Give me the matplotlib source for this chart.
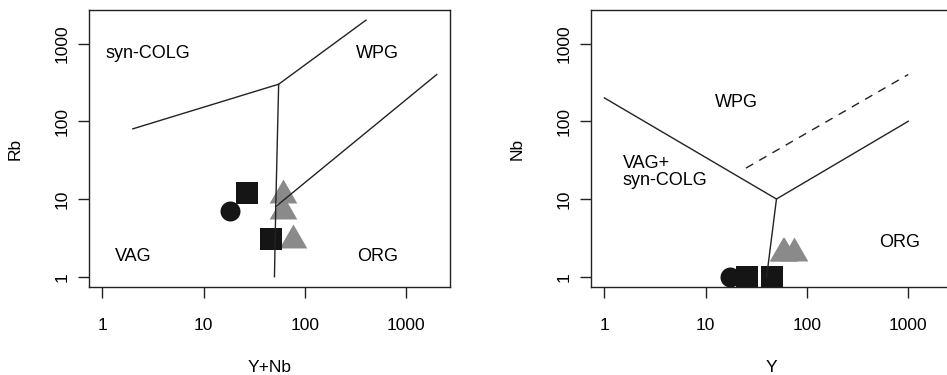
import numpy as np
import matplotlib
matplotlib.use('Agg')
import matplotlib.pyplot as plt

plt.rcParams['font.family'] = ['Liberation Sans', 'DejaVu Sans']

# sample data (ppm)
CIRCLE_Y = [17.3]
CIRCLE_NB = [1.0]
CIRCLE_RB = [7.0]
SQUARE_Y = [25.5, 45.5]
SQUARE_NB = [1.0, 1.0]
SQUARE_RB = [11.9, 3.07]
TRI_Y = [59.0, 58.5, 75.0]
TRI_NB = [2.0, 2.0, 2.0]
TRI_RB = [11.3, 7.0, 2.98]

# Pearce et al. (1984) field boundaries
RB_COLG_X = [2, 55, 400]
RB_COLG_Y = [80, 300, 2000]
RB_VERT_X = [55, 51.5, 50]
RB_VERT_Y = [300, 8, 1]
RB_ORG_X = [51.5, 2000]
RB_ORG_Y = [8, 400]
NB_MAIN_X = [1, 50, 1000]
NB_MAIN_Y = [200, 10, 100]
NB_VERT_X = [50, 40]
NB_VERT_Y = [10, 1]
NB_DASH_X = [25, 1000]
NB_DASH_Y = [25, 400]

TICKS = [1, 10, 100, 1000]
TICK_LABELS = ['1', '10', '100', '1000']
LIM = (10 ** -0.132, 10 ** 3.432)

BLACK = '#151515'
GREY = '#8a8a8a'
LINE = '#222222'

# triangle marker centred on its centroid (like R pch 17)
tri = [(-1, -0.577), (1, -0.577), (0, 1.155), (-1, -0.577)]

fig = plt.figure(figsize=(9.47, 3.75), dpi=100)
ax1 = fig.add_axes([89 / 947, 88 / 375, 361 / 947, 277 / 375])
ax2 = fig.add_axes([591 / 947, 88 / 375, 361 / 947, 277 / 375])


def style(ax):
    ax.set_xscale('log')
    ax.set_yscale('log')
    ax.set_xlim(LIM)
    ax.set_ylim(LIM)
    ax.set_xticks(TICKS, labels=TICK_LABELS)
    ax.set_yticks(TICKS, labels=TICK_LABELS)
    ax.minorticks_off()
    ax.tick_params(axis='x', direction='out', length=8, width=1, pad=14,
                   labelsize=12.5, color=LINE)
    ax.tick_params(axis='y', direction='out', length=8, width=1, pad=6,
                   labelsize=12.5, labelrotation=90, color=LINE)
    for lab in ax.get_yticklabels():
        lab.set_va('center')
    for sp in ax.spines.values():
        sp.set_linewidth(1.0)
        sp.set_color(LINE)


def points(ax, xs, ys):
    cx, sx, tx = xs
    cy, sy, ty = ys
    ax.plot(tx, ty, linestyle='none', marker=tri, markersize=23,
            color=GREY, markeredgewidth=0, zorder=2)
    ax.plot(sx, sy, linestyle='none', marker='s', markersize=15.8,
            color=BLACK, markeredgewidth=0, zorder=2)
    ax.plot(cx, cy, linestyle='none', marker='o', markersize=14.4,
            color=BLACK, markeredgewidth=0, zorder=2)


# left: Rb vs Y+Nb
style(ax1)
ynb_c = np.add(CIRCLE_Y, CIRCLE_NB)
ynb_s = np.add(SQUARE_Y, SQUARE_NB)
ynb_t = np.add(TRI_Y, TRI_NB)
points(ax1, (ynb_c, ynb_s, ynb_t), (CIRCLE_RB, SQUARE_RB, TRI_RB))
for xs, ys in [(RB_COLG_X, RB_COLG_Y), (RB_VERT_X, RB_VERT_Y), (RB_ORG_X, RB_ORG_Y)]:
    ax1.plot(xs, ys, color=LINE, linewidth=1.0, zorder=3)
ax1.text(2.8, 745, 'syn-COLG', ha='center', va='center', fontsize=13)
ax1.text(520, 745, 'WPG', ha='center', va='center', fontsize=13)
ax1.text(2.0, 1.8, 'VAG', ha='center', va='center', fontsize=13)
ax1.text(520, 1.8, 'ORG', ha='center', va='center', fontsize=13)
ax1.set_xlabel('Y+Nb', fontsize=12.5, va='center')
ax1.set_ylabel('Rb', fontsize=12.5, va='center')
ax1.xaxis.set_label_coords(0.5, -0.292)
ax1.yaxis.set_label_coords(-0.205, 0.5)

# right: Nb vs Y
style(ax2)
points(ax2, (CIRCLE_Y, SQUARE_Y, TRI_Y), (CIRCLE_NB, SQUARE_NB, TRI_NB))
ax2.plot(NB_MAIN_X, NB_MAIN_Y, color=LINE, linewidth=1.0, zorder=3)
ax2.plot(NB_VERT_X, NB_VERT_Y, color=LINE, linewidth=1.0, zorder=3)
ax2.plot(NB_DASH_X, NB_DASH_Y, color=LINE, linewidth=1.0, zorder=3,
         linestyle=(0, (6, 5)))
ax2.text(20.3, 175, 'WPG', ha='center', va='center', fontsize=13)
ax2.text(1.51, 22.2, 'VAG+\nsyn-COLG', ha='left', va='center', fontsize=13,
         linespacing=1.0)
ax2.text(813, 2.73, 'ORG', ha='center', va='center', fontsize=13)
ax2.set_xlabel('Y', fontsize=12.5, va='center')
ax2.set_ylabel('Nb', fontsize=12.5, va='center')
ax2.xaxis.set_label_coords(0.5, -0.292)
ax2.yaxis.set_label_coords(-0.205, 0.5)

fig.savefig('out.png', dpi=100, facecolor='white')
